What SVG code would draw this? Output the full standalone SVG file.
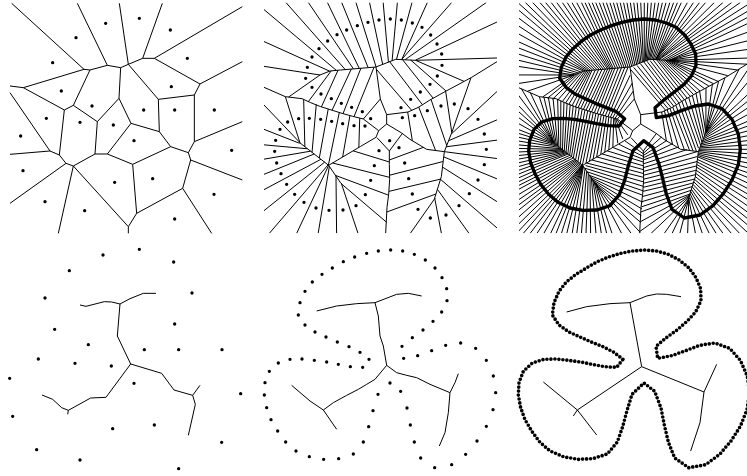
<svg xmlns="http://www.w3.org/2000/svg" width="747" height="476" viewBox="0 0 747 476">
<style>
.ln{fill:none;stroke:#000;stroke-width:3}
.dt{fill:none;stroke:#000;stroke-width:10;stroke-linecap:round}
.sk{fill:none;stroke:#000;stroke-width:3;stroke-linejoin:round}
.thick{fill:none;stroke:#000;stroke-width:10;stroke-linejoin:round}
.beads{fill:none;stroke:#000;stroke-width:11;stroke-linecap:round;stroke-dasharray:0 12}
</style>
<defs>
<clipPath id="clipA" clipPathUnits="userSpaceOnUse"><rect x="42" y="7.5" width="699" height="692.5"/></clipPath>
<clipPath id="clipB" clipPathUnits="userSpaceOnUse"><rect x="45" y="7.5" width="696" height="692.5"/></clipPath>
<path id="rays" d="M391 297L340 357M372 202L312 350M333 204L279 341M304 207L246 331M264 211L214 321M243.5 212.7L175 305M210 225L116 291M210 225L42 199M238.8 213.5L42 124.6M259.2 211.2L42 28.7M285.8 208.8L107.7 7.5M310.3 206.7L175 7.5M327.8 205.3L232.3 7.5M354.5 203L275.1 7.5M378.3 201L317.8 7.5M398 193.2L358.6 7.5M415.3 186.4L399.5 7.5M426.3 182.2L442.1 7.5M439.5 178.1L486.1 7.5M455.2 178.7L532 7.5M455 178.5L605 7.5M465.4 179L709 7.5M496.7 180.3L741 66M496 181L741 174M497 181L642 244M482 180L588 273M457.5 178.8L549.5 294.7M419 185L517 314M379 207.7L485 331M410 344L474 336M487 422L473 336M557 452L506 321M590 436L543 298M605.4 397.6L587 274M606 396L663 233M606 400L741 274.5M595.8 422.2L741 359.5M588.7 440.3L741 420.4M583 455L741 475.6M581.2 470.6L741 536.6M577.5 501.2L741 604.9M571.5 537.9L741 683.8M562.1 567.8L657 700M554 594L574.2 700M555.5 594L481 700M557.8 582L410.5 636M571.6 537.4L417 574M579.5 484.5L418.5 525.7M520.2 442.1L418 480M457 400.5L418 453M381 413L418 453M309.3 452.5L418 486M247.6 489L418.5 532M256.5 526.2L417 586M272.5 550L410 667M273.7 549L324 700M258 528L259.8 700M238 500L204.5 700M236 496L140 700M234 495L58 700M223.8 486.6L42 632M212.9 477.8L42 569M192.5 462L42 523M181.6 453.6L42 477.5M172.5 446.3L42 434.5M149 430L42 388M149 427L42 315M150 428.8L106 290M164.6 440.3L161 298M186.1 457L198.8 313.3M207.9 474.2L234.7 327.1M235 496L267.9 337.5M277.9 471.1L299.8 346.7M326.5 442.3L329.2 354.3M386 392L340 357"/>
<path id="chains" d="M210 225L240 213L272 210L378 201L437 178L496 181M378 201L391 297L410 344L410 372L455 399L480 418L530 448L583 455L606 396M583 455L574 530L554 594M410 372L386 392L378 412L332 439L236 496L149 428M236 496L272 549M340 357L308 349L276 340L244 330L212 320L182 308L156 296L106 290L42 262M474 336L505 322L540 300L585 275L665 232L741 185M418 453L418 493L419 538L416 583L411 622L410 642L407 700"/>
<path id="curveA" d="M362 356L337 335L305 322L274 310L244 296L213 282L186 262L167 235L172 202L186 171L207 146L233 123L261 104L290 90L322 77L354 67L387 60L421 57L454 60L487 69L516 82L542 105L561 132L575 162L576 196L562 228L540 253L511 276L482 298L453 323L457 353L494 347L532 332L573 318L613 312L654 326L684 358L703 402L709 448L703 494L684 540L658 581L627 617L588 645L541 654L504 628L487 582L476 536L464 489L447 443L419 422L387 452L373 497L362 541L346 584L318 617L279 630L237 631L198 624L162 607L134 583L110 553L93 521L80 489L74 454L77 421L90 388L113 366L146 356L178 355L212 358L245 364L278 371L312 377L345 378Z"/>
<path id="curveB" d="M357 370L330 349L297 332L262 318L228 303L195 288L165 267L145 237L150 200L165 166L187 138L216 115L247 96L280 77L314 63L350 52L385 45L422 42L458 45L493 55L526 72L555 96L576 125L590 158L591 194L575 228L549 256L519 282L487 305L456 331L461 367L503 359L545 344L587 328L632 321L677 337L709 373L730 420L737 470L729 521L709 571L681 615L647 655L605 686L554 695L512 666L493 618L481 567L471 516L452 466L420 441L384 475L369 524L356 572L340 618L310 654L266 668L221 670L178 662L138 645L107 618L83 585L63 551L50 515L43 477L45 440L58 406L85 381L120 370L156 369L193 373L230 378L265 385L301 392L338 394Z"/>
</defs>
<rect width="747" height="476" fill="#fff"/>
<g id="panel-voronoi-random" transform="scale(0.333333)">
<path class="ln" d="M35 10L252 208M232 10L322 196M358 10L385 193M487 10L428 175M727 20L463 175M727 185L600 252M727 365L583 425M727 540L572 480M635 700L548 565M385 700L385 680M175 700L220 498M30 610L198 490M30 463L150 453M30 278L150 453M30 258L70 263M70 263L252 208L270 210L322 196L362 203L385 193L428 175L463 175L600 252L583 285L475 298M583 285L583 425L565 458L572 480L548 565L410 640L385 680L220 498M565 458L512 440M410 640L398 493L512 440L478 395L475 298L385 193M478 395L393 370L357 295L362 203M393 370L322 462L285 462M357 295L292 365L285 462L220 498M292 365L220 316L270 210M220 316L193 330L70 263M193 330L178 465L150 453M178 465L198 490L220 498M398 493L322 462"/>
<path class="dt" d="M317 70h0M418 55h0M511 90h0M228 113h0M158 188h0M562 175h0M514 260h0M184 273h0M276 318h0M431 330h0M524 330h0M643 330h0M139 355h0M240 367h0M340 375h0M62 408h0M402 422h0M695 451h0M69 512h0M458 536h0M344 547h0M642 583h0M135 605h0M254 632h0M524 657h0"/>
</g>
<g id="panel-voronoi-sparse-curve" transform="translate(250 0) scale(0.333333)">
<g clip-path="url(#clipA)">
<use href="#rays" class="ln"/>
<use href="#chains" class="ln"/>
</g>
<path class="dt" d="M362 356h0M337 335h0M305 322h0M274 310h0M244 296h0M213 282h0M186 262h0M167 235h0M172 202h0M186 171h0M207 146h0M233 123h0M261 104h0M290 90h0M322 77h0M354 67h0M387 60h0M421 57h0M454 60h0M487 69h0M516 82h0M542 105h0M561 132h0M575 162h0M576 196h0M562 228h0M540 253h0M511 276h0M482 298h0M453 323h0M457 353h0M494 347h0M532 332h0M573 318h0M613 312h0M654 326h0M684 358h0M703 402h0M709 448h0M703 494h0M684 540h0M658 581h0M627 617h0M588 645h0M541 654h0M504 628h0M487 582h0M476 536h0M464 489h0M447 443h0M419 422h0M387 452h0M373 497h0M362 541h0M346 584h0M318 617h0M279 630h0M237 631h0M198 624h0M162 607h0M134 583h0M110 553h0M93 521h0M80 489h0M74 454h0M77 421h0M90 388h0M113 366h0M146 356h0M178 355h0M212 358h0M245 364h0M278 371h0M312 377h0M345 378h0"/>
</g>
<g id="panel-voronoi-dense-curve" transform="translate(504 0) scale(0.333333)">
<g clip-path="url(#clipB)">
<use href="#rays" class="ln"/>
<use href="#chains" class="ln"/>
<path class="ln" d="M384.6 249.5L326 353.5M352.5 203L295.5 345.5M318.5 205.5L262.5 336M284 209L230 326M253.8 211.9L194.5 313M226.8 218.9L145.5 298M210 225L42 250.6M224.4 219.3L42 161.8M249 212.4L42 76.7M272.5 210L63.9 7.5M298 207.8L141.4 7.5M319 206L203.7 7.5M341.2 204.2L253.7 7.5M366.4 202L296.5 7.5M388.2 197.1L338.2 7.5M406.7 189.8L379 7.5M420.8 184.3L420.8 7.5M432.9 180.2L464.1 7.5M447.4 178.4L509 7.5M455.1 178.6L568.5 7.5M460.2 178.8L657 7.5M481 179.7L741 28M496.4 180.7L741 120M496.5 181L700 210M489.5 180.5L615 258.5M469.8 179.4L568.8 283.9M438.3 181.9L533.3 304.4M399 196.4L501 322.5M524.3 444.6L489.5 328.5M577 453L524.5 309.5M597.7 416.8L565 286M605.7 396.8L625 253.5M606 398L741 195M600.9 411.1L741 317M592.3 431.3L741 390M585.9 447.7L741 448M582.1 462.8L741 506.1M579.4 485.9L741 570.8M574.5 519.6L741 644.4M566.8 552.9L706.7 700M558.1 580.9L615.6 700M554.8 594L527.6 700M556.7 588L408 694M564.7 559.7L413.8 605M575.6 511L417.8 549.9M579 455L418.3 502.9M488.6 421.3L418 466.5M345.2 432.8L418 469.5M278.5 470.8L418.3 509M241.8 504.4L417.8 559M264.5 538.1L413.5 626.5M273.1 549.5L381.4 700M265.9 538.5L291.9 700M248 514L232.2 700M237 498L172.3 700M235 495.5L99 700M228.9 490.8L42 674M218.4 482.2L42 600.5M202.7 469.9L42 546M187.1 457.8L42 500.3M177.1 450L42 456M160.8 438.2L42 411.3M149 428.5L42 351.5M149.5 427.9L52.3 266.5M157.3 434.6L133.5 294M175.4 448.7L179.9 305.7M197 465.6L216.8 320.2M221.5 485.1L251.3 332.3M256.5 483.6L283.9 342.1M302.2 456.7L314.5 350.5M356.3 417.2L334.6 355.7"/>
<path class="ln" d="M387.8 273.3L333 355.3M378.3 225.8L319 351.8M362.3 202.5L303.8 347.8M342.8 203.5L287.3 343.3M325.8 204.8L270.8 338.5M311.3 206.3L254.3 333.5M294 208L238 328.5M274 210L222 323.5M258.9 211.5L204.3 317M248.7 212.3L184.8 309M235.2 215.8L160.3 301.5M218.4 222L130.8 294.5M210 225L69.6 274.1M210 225L42 224.8M217.2 222.2L42 180.4M231.6 216.4L42 143.2M243.9 213L42 100.7M254.1 211.8L42 52.7M265.9 210.6L41.3 7.5M279.2 209.4L85.8 7.5M291.9 208.3L124.6 7.5M304.2 207.3L158.2 7.5M314.7 206.4L189.4 7.5M323.4 205.7L218 7.5M334.5 204.8L243 7.5M347.9 203.6L264.4 7.5M360.5 202.5L285.8 7.5M372.4 201.5L307.2 7.5M383.3 199.1L328 7.5M393.1 195.2L348.4 7.5M402.4 191.5L368.8 7.5M411 188.1L389.3 7.5M418.1 185.4L410.2 7.5M423.6 183.3L431.5 7.5M429.6 181.2L453.1 7.5M436.2 179.2L475.1 7.5M443.5 178.3L497.6 7.5M451.3 178.6L520.5 7.5M455.2 178.7L550.3 7.5M455 178.6L586.8 7.5M457.6 178.7L631 7.5M462.8 178.9L683 7.5M473.2 179.4L741 7.5M488.9 180L741 47M496.6 180.5L741 93M496.2 180.9L741 147M496.3 181L729 192.6M496.8 181L671 227M493.3 180.8L628.5 251.3M485.8 180.3L601.5 265.8M475.9 179.7L578.4 278.5M463.7 179.1L559.2 289.3M447.9 180.4L541.4 299.6M428.7 183.5L525.2 309.2M409 190.7L509 318.3M389 202.1L493 326.8M505.7 433.3L481.3 332.3M540.7 448.3L497.8 324.8M567 452.5L515.3 315.3M583.5 444.5L533.8 303.8M593.9 426.4L554 292M601.6 407.2L576 280M605.6 397.2L606 263.8M605.9 396.4L644 243.3M606 397L705.7 206.9M606 399L741 234.8M603.5 405.6L741 295.8M598.4 416.7L741 338.3M594.1 426.8L741 374.8M590.5 435.8L741 405.2M587.3 444L741 434.2M584.5 451.4L741 461.8M582.6 458.9L741 490.9M581.7 466.7L741 521.4M580.3 478.3L741 553.7M578.5 493.6L741 587.9M576 510.4L741 624.7M573 528.8L741 664.1M569.2 545.4L733 700M564.5 560.4L681.9 700M560.1 574.4L636.3 700M556.1 587.5L594.9 700M554.4 594L550.9 700M555.2 594L504.3 700M556.1 591L441.3 700M557.3 585L409.3 665M561.3 570.9L412.2 620.5M568.2 548.6L415.4 589.5M573.6 524.2L417.4 562M577.6 497.8L418.2 537.8M579.3 469.8L418.4 514.3M549.6 448.6L418.2 491.5M504.4 431.7L418 473.3M472.8 410.9L418 459.8M363.1 422.9L418 461.3M327.3 442.7L418 477.8M293.9 461.7L418.2 497.5M263.1 479.9L418.4 520.5M244.7 496.7L418.2 545.5M249.2 515.3L417.4 572.5M260.5 532.2L415.3 606.3M268.5 544.1L411.8 646.8M272.8 549.8L408.5 697M273.4 549.3L352.7 700M269.8 543.8L308 700M262 533.3L275.9 700M253 521L246 700M243 507L218.4 700M237.5 499L188.4 700M236.5 497L156.2 700M235.5 495.8L119.5 700M234.5 495.3L78.5 700M231.5 492.9L42 695.5M226.4 488.7L42 653M221.1 484.4L42 616.3M215.7 480L42 584.8M207.8 473.9L42 557.5M197.6 466L42 534.5M189.8 459.9L42 511.7M184.4 455.7L42 488.9M179.4 451.8L42 466.8M174.8 448.2L42 445.3M166.7 442.3L42 422.9M154.9 434.1L42 399.7M149 429.3L42 369.8M149 427.8L42 333.3M149.3 427.5L42 283.8M149.8 428.4L79.2 278.3M153.7 431.7L119.8 292M161 437.5L147.3 296M170 444.5L170.5 301.9M180.8 452.9L189.4 309.5M191.6 461.3L207.8 316.8M202.5 469.9L225.8 323.7M214.7 479.7L243 329.7M228.3 490.6L259.6 334.9M245.8 489.8L275.9 339.8M267.2 477.4L291.9 344.4M290.1 463.9L307.2 348.6M314.4 449.5L321.9 352.4M341.4 429.8L331.9 355M371.2 404.6L337.3 356.4"/>
<use href="#curveA" class="thick"/>
</g>
</g>
<g id="panel-skeleton-random" transform="translate(0 236) scale(0.333333)">
<path class="sk" d="M240 207L258 211L313 197L335 198L360 204L390 188L430 172L468 172M360 204L352 300L392 384L485 412L522 462L578 478L600 448M578 478L586 505L565 598M392 384L318 484L272 486L205 523L203 535M205 523L185 515L158 490L126 477"/>
<path class="dt" d="M309 57h0M418 40h0M521 78h0M208 104h0M135 186h0M576 171h0M524 264h0M164 280h0M265 326h0M433 341h0M536 341h0M666 341h0M115 369h0M225 382h0M334 390h0M29 427h0M402 442h0M722 473h0M38 541h0M463 567h0M338 578h0M665 619h0M110 641h0M240 672h0M536 698h0"/>
</g>
<g id="panel-skeleton-sparse-curve" transform="translate(250 236) scale(0.333333)">
<path class="sk" d="M200 225L260 210L320 203L375 200L440 175L475 172L515 180M375 200L385 240L390 300L400 330L410 388L440 410L470 418L500 425L540 445L600 470L615 440L625 413M600 470L595 530L585 590L568 630M410 388L375 430L350 445L325 460L290 478L250 500L220 522L180 495L125 448M220 522L260 580"/>
<path class="dt" d="M357 370h0M330 349h0M297 332h0M262 318h0M228 303h0M195 288h0M165 267h0M145 237h0M150 200h0M165 166h0M187 138h0M216 115h0M247 96h0M280 77h0M314 63h0M350 52h0M385 45h0M422 42h0M458 45h0M493 55h0M526 72h0M555 96h0M576 125h0M590 158h0M591 194h0M575 228h0M549 256h0M519 282h0M487 305h0M456 331h0M461 367h0M503 359h0M545 344h0M587 328h0M632 321h0M677 337h0M709 373h0M730 420h0M737 470h0M729 521h0M709 571h0M681 615h0M647 655h0M605 686h0M554 695h0M512 666h0M493 618h0M481 567h0M471 516h0M452 466h0M420 441h0M384 475h0M369 524h0M356 572h0M340 618h0M310 654h0M266 668h0M221 670h0M178 662h0M138 645h0M107 618h0M83 585h0M63 551h0M50 515h0M43 477h0M45 440h0M58 406h0M85 381h0M120 370h0M156 369h0M193 373h0M230 378h0M265 385h0M301 392h0M338 394h0"/>
</g>
<g id="panel-skeleton-dense-curve">
<use href="#curveB" class="beads" transform="translate(504 236) scale(0.333333)"/>
<path class="sk" transform="translate(500 236) scale(0.333333)" d="M200 228L260 212L330 203L390 200L440 180L470 174L500 175L543 182M390 200L425 392L612 468L650 385M612 468L600 560L572 645M425 392L232 522L130 438M232 522L290 597M232 522L220 540"/>
</g>
</svg>
